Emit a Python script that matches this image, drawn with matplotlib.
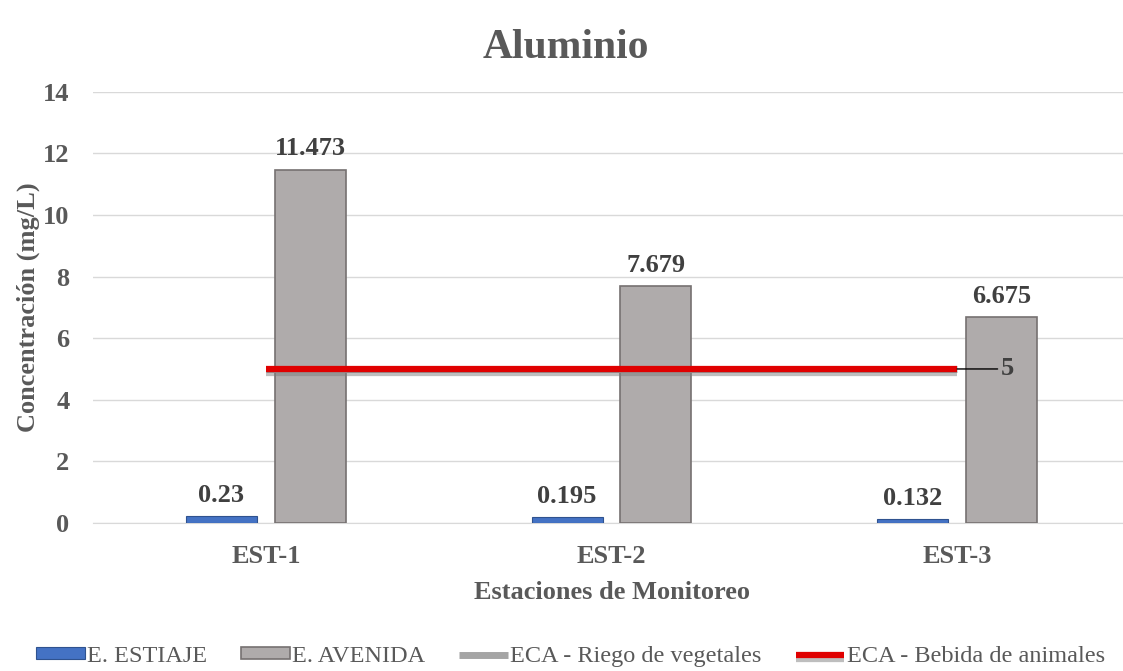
import matplotlib
matplotlib.use("Agg")
import matplotlib.pyplot as plt
import matplotlib.patheffects as pe
import numpy as np

stations = ["EST-1", "EST-2", "EST-3"]
estiaje = [0.23, 0.195, 0.132]
avenida = [11.473, 7.679, 6.675]
eca_riego = [5, 5, 5]
eca_bebida = [5, 5, 5]
series_names = ["E. ESTIAJE", "E. AVENIDA", "ECA - Riego de vegetales", "ECA - Bebida de animales"]

plt.rcParams['font.family'] = ['Liberation Serif', 'DejaVu Serif']
txt = '#595959'

fig = plt.figure(figsize=(11.23, 6.71), dpi=100)
ax = fig.add_axes([93/1123, (671-523)/671, (1130-93)/1123, 431.3/671])

x = np.arange(len(stations))
w = 0.205
gap = 0.052
b1 = ax.bar(x - (w+gap)/2, estiaje, w, color='#4472C4', edgecolor='#2F528F', linewidth=0.8,
            label=series_names[0], zorder=3)
b2 = ax.bar(x + (w+gap)/2, avenida, w, color='#AFABAB', edgecolor='#767171', linewidth=1.2,
            label=series_names[1], zorder=3)

l1, = ax.plot(x, eca_riego, color='#A5A5A5', lw=5, label=series_names[2], zorder=4,
              solid_capstyle='butt')
l2, = ax.plot(x, eca_bebida, color='#E00000', lw=4.5, label=series_names[3], zorder=5,
              solid_capstyle='butt',
              path_effects=[pe.SimpleLineShadow(offset=(0, -3), shadow_color='#7f7f7f', alpha=0.5),
                            pe.Normal()])

lab_kw = dict(ha='center', va='bottom', fontsize=19, fontweight='bold', color='#404040')
for xi, v in zip(x - (w+gap)/2, estiaje):
    ax.text(xi, v + 0.3, f"{v:g}", **lab_kw)
for xi, v in zip(x + (w+gap)/2, avenida):
    ax.text(xi, v + 0.3, f"{v:g}", **lab_kw)

ax.annotate(f"{eca_bebida[-1]:g}", xy=(x[-1], eca_bebida[-1]), xytext=(x[-1] + 0.125, eca_bebida[-1]),
            textcoords='data', ha='left', va='center', fontsize=19, fontweight='bold', color='#404040',
            arrowprops=dict(arrowstyle='-', color='black', lw=1, shrinkA=0, shrinkB=0), zorder=6)

ax.set_xlim(-0.5, 2.5)
ax.set_ylim(0, 14)
ax.set_yticks(range(0, 15, 2))
ax.set_xticks(x)
ax.set_xticklabels(stations)
ax.yaxis.grid(True, color='#D9D9D9', lw=1, zorder=0)
ax.set_axisbelow(True)
for s in ['top', 'right', 'left']:
    ax.spines[s].set_visible(False)
ax.spines['bottom'].set_color('#D9D9D9')
ax.tick_params(axis='y', length=0, labelsize=19, colors=txt, pad=17)
ax.tick_params(axis='x', length=0, labelsize=19, colors=txt, pad=16)
for lab in ax.get_xticklabels() + ax.get_yticklabels():
    lab.set_fontweight('bold')

ax.set_xlabel("Estaciones de Monitoreo", fontsize=19, fontweight='bold', color=txt, labelpad=9)
ax.set_ylabel("Concentración (mg/L)", fontsize=19, fontweight='bold', color=txt, labelpad=2)
fig.text(0.504, 0.928, "Aluminio", ha='center', va='center', fontsize=30, fontweight='bold', color=txt)

leg = fig.legend(handles=[b1, b2, l1, l2], labels=series_names, loc='center', bbox_to_anchor=(0.508, 0.022),
                 ncol=4, frameon=False, fontsize=17.5, handlelength=2.0, handletextpad=0.1,
                 columnspacing=1.4, handleheight=0.35)
for t in leg.get_texts():
    t.set_color(txt)

fig.savefig("out.png", dpi=100)
